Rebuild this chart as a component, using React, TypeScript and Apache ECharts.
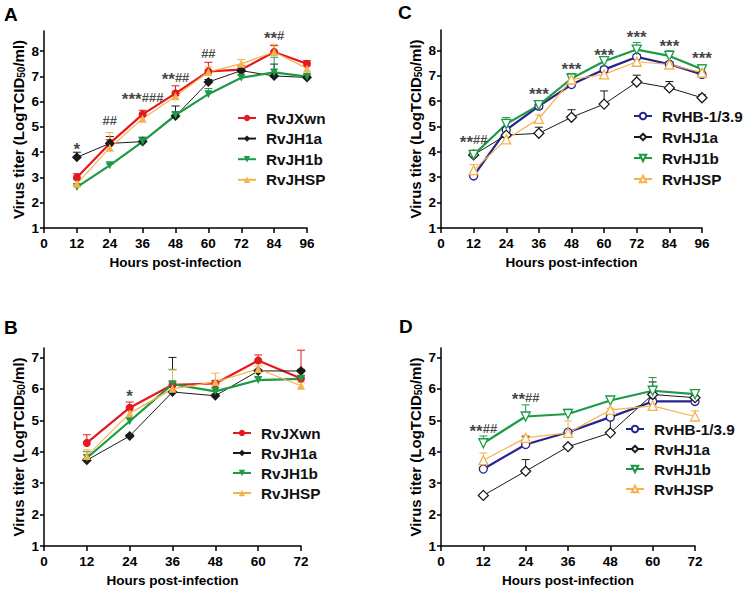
import React, { useEffect, useRef } from "react";
import * as echarts from "echarts";

const FONT = '"Liberation Sans", Arial, Helvetica, sans-serif';

// ---- axes ----
const hoursAC = [12, 24, 36, 48, 60, 72, 84, 96];
const hoursBD = [12, 24, 36, 48, 60, 72];
const yTicksAC = [1, 2, 3, 4, 5, 6, 7, 8];
const yTicksBD = [1, 2, 3, 4, 5, 6, 7];

// ---- names ----
const namesAB = ["RvJXwn", "RvJH1a", "RvJH1b", "RvJHSP"];
const namesCD = ["RvHB-1/3.9", "RvHJ1a", "RvHJ1b", "RvHJSP"];

// ---- Panel A ----
const aJXwn = [3.0, 4.35, 5.5, 6.33, 7.2, 7.27, 7.97, 7.5];
const aJXwnErr = [0.15, 0.15, 0.16, 0.3, 0.36, 0.15, 0.25, 0.13];
const aJH1a = [3.8, 4.35, 4.42, 5.43, 6.78, 7.23, 7.02, 6.96];
const aJH1aErr = [0.2, 0.27, 0.15, 0.4, 0.1, 0.1, 0.47, 0.05];
const aJH1b = [2.62, 3.48, 4.42, 5.47, 6.3, 6.95, 7.16, 6.99];
const aJH1bErr = [0.05, 0.05, 0.18, 0.12, 0.22, 0.1, 0.6, 0.08];
const aJHSP = [2.75, 4.18, 5.33, 6.22, 7.18, 7.5, 7.97, 7.32];
const aJHSPErr = [0.17, 0.6, 0.15, 0.2, 0.2, 0.17, 0.3, 0.1];
const aAnnX = [12, 24, 36, 48, 60, 84];
const aAnnY = [4.22, 5.24, 6.17, 6.96, 7.9, 8.62];
const aAnnText = ["*", "##", "***###", "**##", "##", "**#"];

// ---- Panel B ----
const bJXwn = [4.28, 5.4, 6.13, 6.17, 6.9, 6.33];
const bJXwnErr = [0.26, 0.18, 0.1, 0.1, 0.18, 0.9];
const bJH1a = [3.73, 4.5, 5.9, 5.78, 6.57, 6.57];
const bJH1aErr = [0.05, 0.05, 1.1, 0.05, 0.05, 0.05];
const bJH1b = [3.8, 4.97, 6.15, 5.92, 6.28, 6.32];
const bJH1bErr = [0.2, 0.1, 0.47, 0.12, 0.1, 0.1];
const bJHSP = [3.86, 5.22, 6.0, 6.22, 6.63, 6.1];
const bJHSPErr = [0.2, 0.15, 0.6, 0.28, 0.1, 0.1];
const bAnnX = [24];
const bAnnY = [5.83];
const bAnnText = ["*"];

// ---- Panel C ----
const cHB = [3.05, 4.86, 5.8, 6.65, 7.24, 7.74, 7.45, 7.05];
const cHBErr = [0.05, 0.1, 0.05, 0.1, 0.1, 0.1, 0.1, 0.05];
const cHJ1a = [3.88, 4.66, 4.73, 5.36, 5.88, 6.75, 6.52, 6.13];
const cHJ1aErr = [0.1, 0.05, 0.24, 0.3, 0.52, 0.27, 0.25, 0.12];
const cHJ1b = [3.88, 5.1, 5.84, 6.89, 7.57, 8.03, 7.78, 7.25];
const cHJ1bErr = [0.18, 0.25, 0.06, 0.2, 0.08, 0.28, 0.2, 0.18];
const cHJSP = [3.28, 4.49, 5.3, 6.85, 7.05, 7.55, 7.44, 7.12];
const cHJSPErr = [0.22, 0.08, 0.15, 0.1, 0.08, 0.1, 0.08, 0.08];
const cAnnX = [12, 36, 48, 60, 72, 84, 96];
const cAnnY = [4.47, 6.37, 7.35, 7.9, 8.6, 8.24, 7.77];
const cAnnText = ["**##", "***", "***", "***", "***", "***", "***"];

// ---- Panel D ----
const dHB = [3.45, 4.23, 4.62, 5.1, 5.6, 5.6];
const dHBErr = [0.05, 0.25, 0.05, 0.15, 0.1, 0.05];
const dHJ1a = [2.61, 3.38, 4.16, 4.6, 5.82, 5.72];
const dHJ1aErr = [0.05, 0.37, 0.05, 0.5, 0.4, 0.05];
const dHJ1b = [4.27, 5.12, 5.2, 5.63, 5.94, 5.83];
const dHJ1bErr = [0.23, 0.37, 0.15, 0.07, 0.42, 0.08];
const dHJSP = [3.73, 4.44, 4.6, 5.33, 5.46, 5.12];
const dHJSPErr = [0.23, 0.08, 0.38, 0.05, 0.05, 0.18];
const dAnnX = [12, 24];
const dAnnY = [4.73, 5.74];
const dAnnText = ["**##", "**##"];

// ---- styles ----
const RED = "#e3191f";
const BLACK = "#1a1a1a";
const GREEN = "#1c9a45";
const ORANGE = "#f6b24e";
const NAVY = "#26248c";

type Sty = { color: string; symbol: string; rotate: number; size: number; width: number; hollow: boolean };
const stylesAB: Sty[] = [
  { color: RED, symbol: "circle", rotate: 0, size: 8, width: 2.2, hollow: false },
  { color: BLACK, symbol: "diamond", rotate: 0, size: 10, width: 1, hollow: false },
  { color: GREEN, symbol: "triangle", rotate: 180, size: 8, width: 2.2, hollow: false },
  { color: ORANGE, symbol: "triangle", rotate: 0, size: 8, width: 1.2, hollow: false },
];
const stylesCD: Sty[] = [
  { color: NAVY, symbol: "circle", rotate: 0, size: 8, width: 2.2, hollow: true },
  { color: BLACK, symbol: "diamond", rotate: 0, size: 10, width: 1, hollow: true },
  { color: GREEN, symbol: "triangle", rotate: 180, size: 9, width: 2.2, hollow: true },
  { color: ORANGE, symbol: "triangle", rotate: 0, size: 9, width: 1.2, hollow: true },
];

function lineSeries(grid: number, name: string, hours: number[], vals: number[], s: Sty) {
  return {
    type: "line",
    name,
    xAxisIndex: grid,
    yAxisIndex: grid,
    data: hours.map((h, i) => [h, vals[i]]),
    symbol: s.symbol,
    symbolSize: s.size,
    symbolRotate: s.rotate,
    showAllSymbol: true,
    lineStyle: { color: s.color, width: s.width },
    itemStyle: s.hollow
      ? { color: "#ffffff", borderColor: s.color, borderWidth: 1.3 }
      : { color: s.color, borderWidth: 0 },
    z: 3,
    silent: true,
  };
}

function errSeries(grid: number, name: string, hours: number[], vals: number[], errs: number[], color: string) {
  return {
    type: "custom",
    name,
    xAxisIndex: grid,
    yAxisIndex: grid,
    data: hours.map((h, i) => [h, vals[i], errs[i]]),
    encode: { x: 0, y: 1 },
    z: 2,
    silent: true,
    renderItem: (_p: any, api: any) => {
      const x = api.value(0);
      const y = api.value(1);
      const e = api.value(2);
      const p0 = api.coord([x, y]);
      const p1 = api.coord([x, y + e]);
      return {
        type: "group",
        children: [
          { type: "line", shape: { x1: p0[0], y1: p0[1], x2: p1[0], y2: p1[1] }, style: { stroke: color, lineWidth: 1 } },
          { type: "line", shape: { x1: p1[0] - 4, y1: p1[1], x2: p1[0] + 4, y2: p1[1] }, style: { stroke: color, lineWidth: 1 } },
        ],
      };
    },
  };
}

function richAnn(t: string) {
  // asterisks drawn larger and bold, hashes smaller
  return t.replace(/(\*+)/g, "{s|$1}").replace(/(#+)/g, "{h|$1}");
}

function annSeries(grid: number, xs: number[], ys: number[], texts: string[]) {
  return {
    type: "scatter",
    name: "ann" + grid,
    xAxisIndex: grid,
    yAxisIndex: grid,
    data: xs.map((x, i) => [x, ys[i]]),
    symbolSize: 0,
    silent: true,
    z: 6,
    label: {
      show: true,
      position: "inside",
      formatter: (p: any) => richAnn(texts[p.dataIndex]),
      color: "#000",
      fontFamily: FONT,
      rich: {
        s: { fontSize: 17, fontWeight: "bold", fontFamily: FONT, color: "#111", padding: [5, 0, 0, 0] },
        h: { fontSize: 13, fontWeight: "bold", fontFamily: FONT, color: "#1a1a1a" },
      },
    },
  };
}

const axisLineStyle = { color: "#000", width: 1.5 };

function xAxis(grid: number, max: number) {
  return {
    type: "value",
    gridIndex: grid,
    min: 0,
    max,
    interval: 12,
    axisLine: { show: true, lineStyle: axisLineStyle },
    axisTick: { show: true, length: 5, lineStyle: axisLineStyle },
    splitLine: { show: false },
    axisLabel: { color: "#000", fontSize: 13.5, fontWeight: "bold", fontFamily: FONT, margin: 8 },
    name: "Hours post-infection",
    nameLocation: "middle",
    nameGap: 27,
    nameTextStyle: { color: "#000", fontSize: 13.5, fontWeight: "bold", fontFamily: FONT },
  };
}

function yAxis(grid: number, max: number, ticks: number[]) {
  return {
    type: "value",
    gridIndex: grid,
    min: 1,
    max,
    interval: 1,
    axisLine: { show: true, lineStyle: axisLineStyle },
    axisTick: { show: true, length: 4, lineStyle: axisLineStyle, customValues: ticks },
    splitLine: { show: false },
    axisLabel: { color: "#000", fontSize: 13.5, fontWeight: "bold", fontFamily: FONT, margin: 5, customValues: ticks },
    name: "Virus titer (LogTCID{sub|50}/ml)",
    nameLocation: "middle",
    nameRotate: 90,
    nameGap: 18,
    nameTextStyle: {
      color: "#000",
      fontSize: 15,
      fontWeight: "bold",
      fontFamily: FONT,
      rich: {
        sub: { fontSize: 10, fontWeight: "bold", fontFamily: FONT, color: "#000", verticalAlign: "bottom", padding: [6, 0, 0, 0] },
      },
    },
  };
}

function legend(left: number, top: number, names: string[], gap: number) {
  return {
    orient: "vertical",
    left,
    top,
    padding: 0,
    itemGap: gap,
    itemWidth: 18,
    itemHeight: 8,
    selectedMode: false,
    data: names,
    textStyle: {
      color: "#111",
      fontSize: 15.3,
      fontWeight: "bold",
      fontFamily: FONT,
      lineHeight: 18,
      padding: [0, 0, 0, 5],
    },
  };
}

function panelLetter(text: string, x: number, y: number) {
  return {
    type: "text",
    x,
    y,
    style: { text, fontSize: 19, fontWeight: "bold", fontFamily: FONT, fill: "#000" },
  };
}

export default function App() {
  const ref = useRef<HTMLDivElement>(null);
  useEffect(() => {
    if (!ref.current) return;
    const chart = echarts.init(ref.current, undefined, { renderer: "svg" });

    const aVals = [aJXwn, aJH1a, aJH1b, aJHSP];
    const aErrs = [aJXwnErr, aJH1aErr, aJH1bErr, aJHSPErr];
    const bVals = [bJXwn, bJH1a, bJH1b, bJHSP];
    const bErrs = [bJXwnErr, bJH1aErr, bJH1bErr, bJHSPErr];
    const cVals = [cHB, cHJ1a, cHJ1b, cHJSP];
    const cErrs = [cHBErr, cHJ1aErr, cHJ1bErr, cHJSPErr];
    const dVals = [dHB, dHJ1a, dHJ1b, dHJSP];
    const dErrs = [dHBErr, dHJ1aErr, dHJ1bErr, dHJSPErr];

    const series: any[] = [];
    const panels = [
      { grid: 0, hours: hoursAC, names: namesAB, styles: stylesAB, vals: aVals, errs: aErrs, ann: [aAnnX, aAnnY, aAnnText] },
      { grid: 1, hours: hoursBD, names: namesAB, styles: stylesAB, vals: bVals, errs: bErrs, ann: [bAnnX, bAnnY, bAnnText] },
      { grid: 2, hours: hoursAC, names: namesCD, styles: stylesCD, vals: cVals, errs: cErrs, ann: [cAnnX, cAnnY, cAnnText] },
      { grid: 3, hours: hoursBD, names: namesCD, styles: stylesCD, vals: dVals, errs: dErrs, ann: [dAnnX, dAnnY, dAnnText] },
    ];
    panels.forEach((p) => {
      p.names.forEach((n, i) => {
        series.push(errSeries(p.grid, "err-" + p.grid + "-" + i, p.hours, p.vals[i], p.errs[i], p.styles[i].color));
      });
      p.names.forEach((n, i) => {
        series.push(lineSeries(p.grid, n, p.hours, p.vals[i], p.styles[i]));
      });
      series.push(annSeries(p.grid, p.ann[0] as number[], p.ann[1] as number[], p.ann[2] as string[]));
    });

    chart.setOption({
      animation: false,
      backgroundColor: "#ffffff",
      grid: [
        { left: 44, top: 31, width: 263, height: 197 },
        { left: 44, top: 348, width: 257, height: 198 },
        { left: 441, top: 30, width: 261, height: 198 },
        { left: 441, top: 348, width: 254, height: 198 },
      ],
      xAxis: [xAxis(0, 96), xAxis(1, 72), xAxis(2, 96), xAxis(3, 72)],
      yAxis: [yAxis(0, 8.8, yTicksAC), yAxis(1, 7.3, yTicksBD), yAxis(2, 8.8, yTicksAC), yAxis(3, 7.3, yTicksBD)],
      legend: [
        legend(237, 109, namesAB, 2.6),
        legend(232, 424, namesAB, 2),
        legend(633, 107, namesCD, 3),
        legend(625, 420, namesCD, 2),
      ],
      graphic: [
        panelLetter("A", 4, 5),
        panelLetter("B", 4, 318),
        panelLetter("C", 398, 3),
        panelLetter("D", 399, 317),
      ],
      series,
    });
    return () => chart.dispose();
  }, []);
  return <div ref={ref} style={{ position: "absolute", left: 0, top: 0, width: 744, height: 595 }} />;
}
